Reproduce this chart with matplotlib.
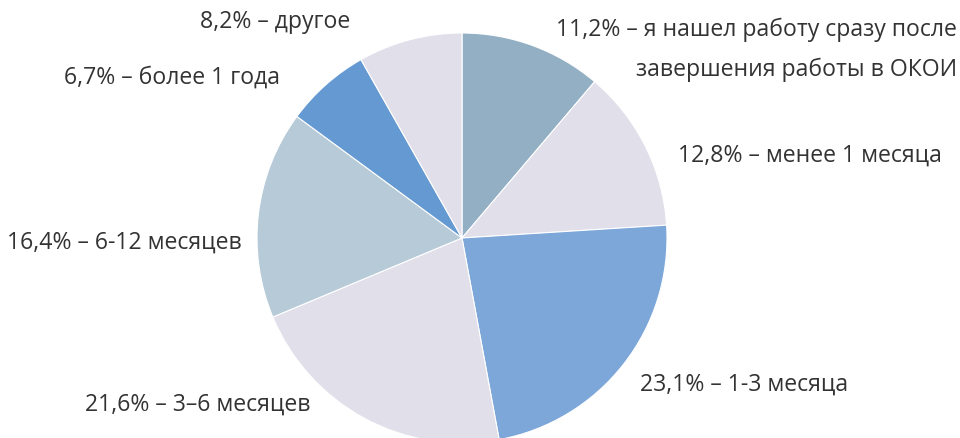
import matplotlib
matplotlib.use("Agg")
from matplotlib import pyplot as plt

# shares of respondents, clockwise from 12 o'clock
shares = [11.2, 12.8, 23.1, 21.6, 16.4, 6.7, 8.2]
labels = [
    "11,2% – я нашел работу сразу после\nзавершения работы в ОКОИ",
    "12,8% – менее 1 месяца",
    "23,1% – 1-3 месяца",
    "21,6% – 3–6 месяцев",
    "16,4% – 6-12 месяцев",
    "6,7% – более 1 года",
    "8,2% – другое",
]
colors = ["#93afc4", "#e0dfea", "#7da7d9", "#e0dfea", "#b7cad8", "#6499d2", "#e0dfea"]

# label anchors in pixels (x, y measured from the top), with alignment
label_pos = [
    (957, 50, "right"),
    (942, 156, "right"),
    (640, 385, "left"),
    (310, 405, "right"),
    (242, 243, "right"),
    (280, 78, "right"),
    (350, 22, "right"),
]

W, H = 960, 439
fig = plt.figure(figsize=(W / 100, H / 100), dpi=100)
ax = fig.add_axes([0, 0, 1, 1])

ax.pie(
    shares,
    colors=colors,
    startangle=90,
    counterclock=False,
    center=(462, H - 239),
    radius=205,
    frame=True,
    wedgeprops=dict(edgecolor="white", linewidth=0.8),
)
ax.set_xlim(0, W)
ax.set_ylim(0, H)
ax.set_aspect("equal")
ax.axis("off")

for text, (x, y, ha) in zip(labels, label_pos):
    ax.text(x, H - y, text, ha=ha, va="center", fontsize=16.6, color="#333333",
            family="Open Sans", linespacing=1.85, multialignment="right")

fig.savefig("out.png", dpi=100)
